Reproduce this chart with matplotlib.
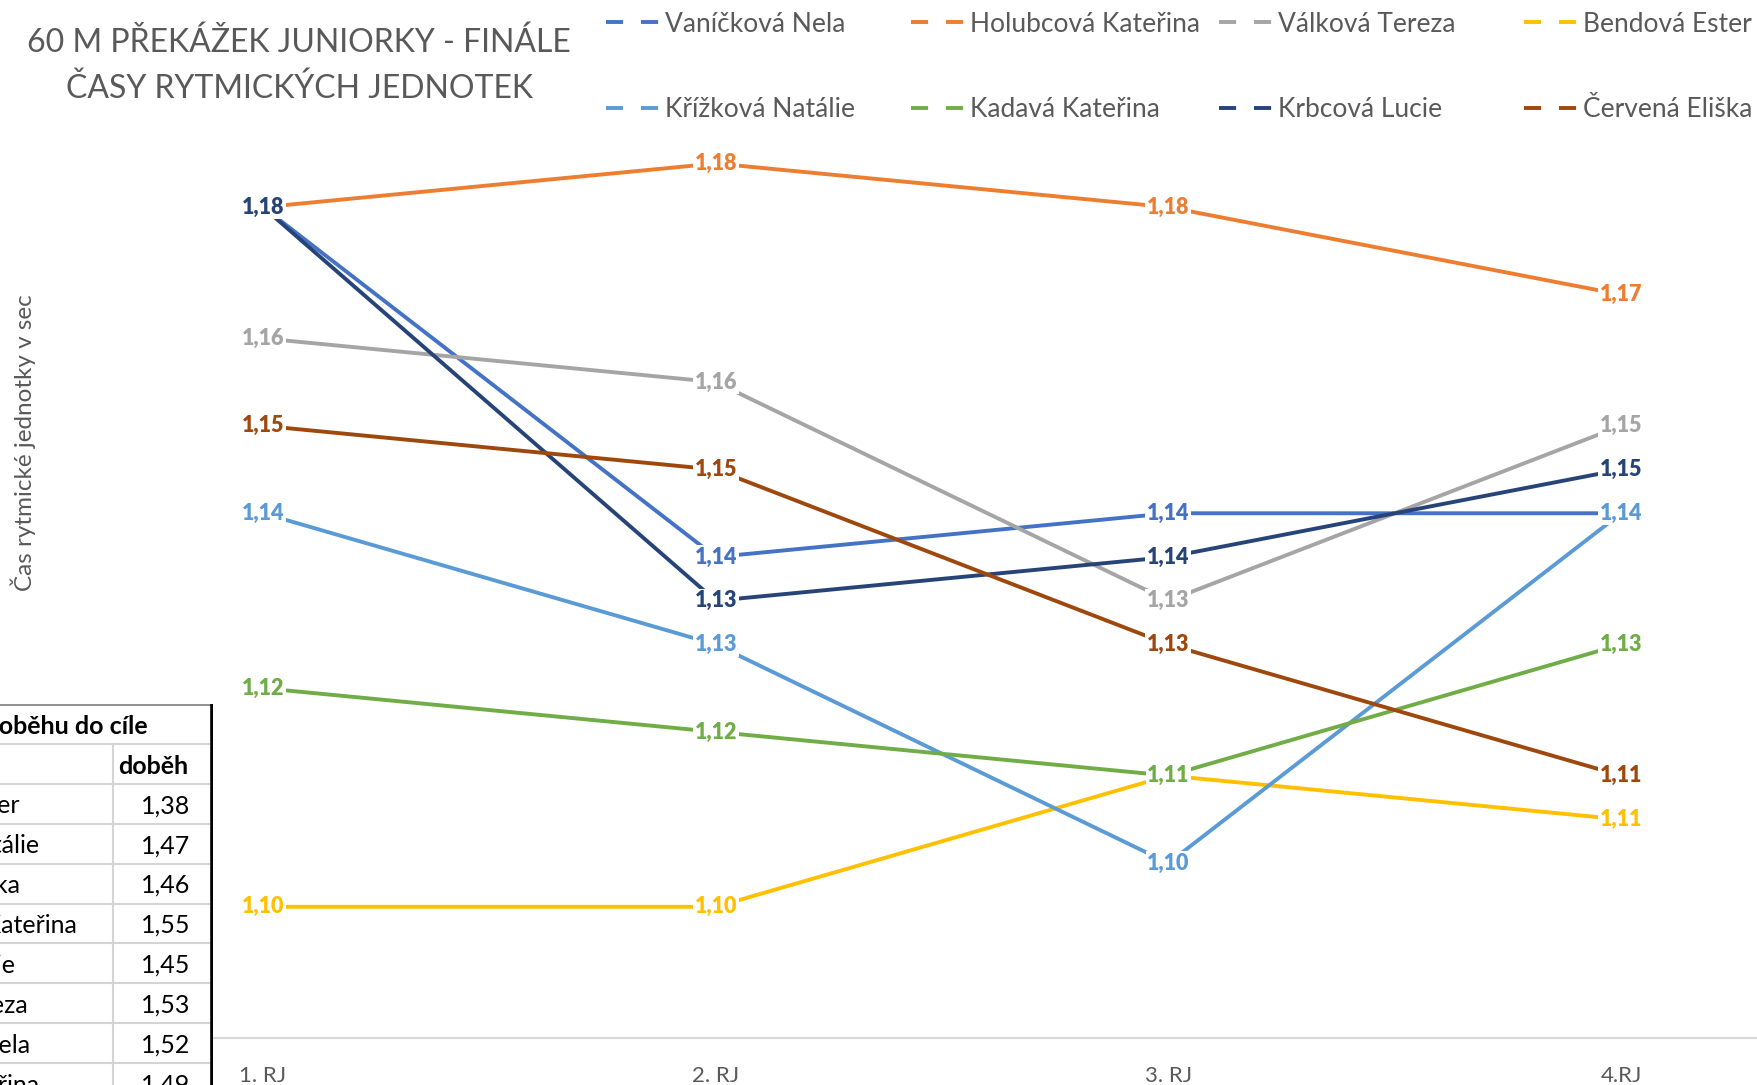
import matplotlib.pyplot as plt
from matplotlib.lines import Line2D
from decimal import Decimal, ROUND_HALF_UP

plt.rcParams['font.family'] = ['Lato', 'DejaVu Sans']

rounds = ['1. RJ', '2. RJ', '3. RJ', '4.RJ']
runners = ['Vaníčková Nela', 'Holubcová Kateřina', 'Válková Tereza', 'Bendová Ester',
           'Křížková Natálie', 'Kadavá Kateřina', 'Krbcová Lucie', 'Červená Eliška']
vanickova = [1.175, 1.135, 1.14, 1.14]
holubcova = [1.175, 1.18, 1.175, 1.165]
valkova = [1.16, 1.155, 1.13, 1.15]
bendova = [1.095, 1.095, 1.11, 1.105]
krizkova = [1.14, 1.125, 1.10, 1.14]
kadava = [1.12, 1.115, 1.11, 1.125]
krbcova = [1.175, 1.13, 1.135, 1.145]
cervena = [1.15, 1.145, 1.125, 1.11]
series = [vanickova, holubcova, valkova, bendova, krizkova, kadava, krbcova, cervena]
colors = ['#4472C4', '#ED7D31', '#A5A5A5', '#FFC000', '#5B9BD5', '#70AD47', '#264478', '#9E480E']

table_names = ['Bendová Ester', 'Křížková Natálie', 'Červená Eliška', 'Holubcová Kateřina',
               'Krbcová Lucie', 'Válková Tereza', 'Vaníčková Nela', 'Kadavá Kateřina']
table_times = [1.38, 1.47, 1.46, 1.55, 1.45, 1.53, 1.52, 1.49]


def fmt(v):
    # excel style rounding (half up) with decimal comma
    return str(Decimal(str(v)).quantize(Decimal('0.01'), ROUND_HALF_UP)).replace('.', ',')


W, H = 1757, 1085
grey = '#595959'
fig = plt.figure(figsize=(W / 100, H / 100), dpi=100)

# main chart
ax = fig.add_axes([0, (H - 1038) / H, 1, (1038 - 76) / H])
x = list(range(len(rounds)))
for vals, c in zip(series, colors):
    ax.plot(x, vals, color=c, lw=2.8, zorder=2)
for vals, c in zip(series, colors):
    for xi, v in zip(x, vals):
        ax.text(xi, v, fmt(v), color=c, ha='center', va='center', fontsize=15.5,
                fontweight='heavy', zorder=3,
                bbox=dict(fc='white', ec='none', pad=1.2))

ax.set_xlim(-0.581, 3.300)
ax.set_ylim(1.08, 1.19)
ax.set_yticks([])
ax.set_xticks(x)
ax.set_xticklabels(rounds, fontsize=16, color=grey)
ax.tick_params(axis='x', length=0, pad=20)
for s in ['top', 'left', 'right']:
    ax.spines[s].set_visible(False)
ax.spines['bottom'].set_color('#D9D9D9')
ax.spines['bottom'].set_linewidth(1.5)

fig.text(23 / W, 1 - 443 / H, 'Čas rytmické jednotky v sec', rotation=90,
         ha='center', va='center', fontsize=17.5, color=grey)

fig.text(299 / W, 1 - 52 / H, '60 M PŘEKÁŽEK JUNIORKY - FINÁLE', ha='center',
         va='baseline', fontsize=23, color=grey)
fig.text(299 / W, 1 - 98 / H, 'ČASY RYTMICKÝCH JEDNOTEK', ha='center',
         va='baseline', fontsize=23, color=grey)

# legend, 4 equal columns x 2 rows
col_x = [606, 911, 1219, 1524]
for j in range(4):
    idx = [j, j + 4]
    handles = [Line2D([], [], color=colors[i], lw=2.8, dashes=(4.4, 4.6)) for i in idx]
    fig.legend(handles, [runners[i] for i in idx], loc='center left',
               bbox_to_anchor=(col_x[j] / W, 1 - 67 / H), frameon=False,
               fontsize=19, handlelength=2.0, handletextpad=0.25,
               labelspacing=2.3, borderpad=0, borderaxespad=0, labelcolor=grey)

# table pasted over the chart (cut at the left and bottom)
tab = fig.add_axes([0, 0, 213 / W, (H - 704) / H])
tab.set_zorder(5)
tab.set_xlim(0, 213)
tab.set_ylim(H, 704)
tab.set_xticks([])
tab.set_yticks([])
for s in tab.spines.values():
    s.set_visible(False)
tab.set_facecolor('white')

top = 704
row_h = 39.9
line_c = '#D4D4D4'
tab.axhline(top + 1, color='#7F7F7F', lw=1.2)
for k in range(1, 11):
    tab.axhline(top + k * row_h, color=line_c, lw=1.5)
tab.plot([113, 113], [top + row_h, H], color=line_c, lw=1.5)
tab.plot([211.5, 211.5], [top, H], color='black', lw=2.6)

tfs = 18
tab.text(148, top + 0.5 * row_h + 3, 'Čas doběhu do cíle', ha='right', va='center',
         fontsize=tfs, fontweight='bold', color='black')
tab.text(118, top + 1.5 * row_h + 3, 'doběh', ha='left', va='center',
         fontsize=tfs, fontweight='bold', color='black')

renderer = fig.canvas.get_renderer()
probe = tab.text(0, 0, table_names[0], fontsize=tfs)
w_px = probe.get_window_extent(renderer).width
probe.remove()
name_x = 20 - w_px

for i, (nm, tm) in enumerate(zip(table_names, table_times)):
    yc = top + (i + 2.5) * row_h + 2
    tab.text(name_x, yc, nm, ha='left', va='center', fontsize=tfs, color='black')
    tab.text(190, yc, fmt(tm), ha='right', va='center', fontsize=tfs, color='black')

fig.savefig('out.png', dpi=100)
